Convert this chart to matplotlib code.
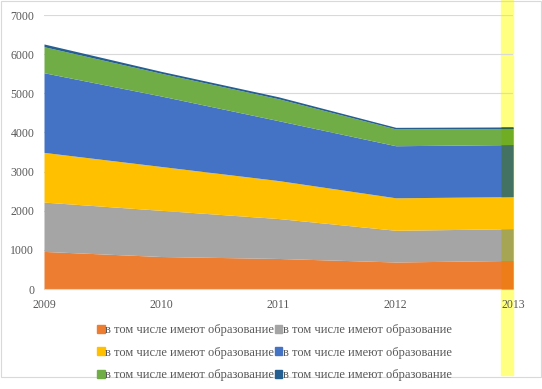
import matplotlib.pyplot as plt
from matplotlib.patches import Rectangle, Patch
import numpy as np

years = [2009, 2010, 2011, 2012, 2013]
orange = [960, 830, 780, 690, 730]
grey = [1260, 1180, 1020, 810, 810]
yellow = [1270, 1120, 970, 830, 820]
blue = [2035, 1800, 1530, 1330, 1330]
green = [665, 580, 560, 430, 410]
darkblue = [70, 50, 50, 40, 40]
label = 'в том числе имеют образование'

colors = ['#ED7D31', '#A5A5A5', '#FFC000', '#4472C4', '#70AD47', '#255E91']
series = [orange, grey, yellow, blue, green, darkblue]

plt.rcParams['font.family'] = ['Liberation Serif', 'DejaVu Serif']

fig = plt.figure(figsize=(5.42, 3.89), dpi=100)
ax = fig.add_axes([44/542, 1-289/389, (513-44)/542, (289-15)/389])
ax.set_facecolor('none')

# yellow highlight strip behind the chart
fig.patches.append(Rectangle((501/542, 1-375/389), 12/542, 375/389,
                             transform=fig.transFigure, color='#FFFF80', zorder=-5))
# chart border
fig.patches.append(Rectangle((0.001, 0.03), 0.997, 0.968, transform=fig.transFigure,
                             fill=False, edgecolor='#D9D9D9', lw=0.8, zorder=-4))

x = np.array(years, dtype=float)
base = np.zeros(len(years))
x_strip = 2009 + (501 - 44) / 117.25
for vals, c in zip(series, colors):
    top = base + np.array(vals)
    ax.fill_between(x, base, top, color=c, lw=0, zorder=2)
    # multiply tint where the yellow strip crosses the areas
    rgb = np.array(plt.matplotlib.colors.to_rgb(c)) * np.array([1, 1, 0.5])
    xs = np.array([x_strip, 2013])
    ax.fill_between(xs, np.interp(xs, x, base), np.interp(xs, x, top),
                    color=rgb, lw=0, zorder=3)
    base = top

ax.set_xlim(2009, 2013)
ax.set_ylim(0, 7000)
ax.set_yticks(range(0, 7001, 1000))
ax.set_xticks(years)
ax.grid(axis='y', color='#D9D9D9', lw=0.8, zorder=0)
ax.set_axisbelow(True)
for s in ax.spines.values():
    s.set_visible(False)
ax.spines['bottom'].set_visible(True)
ax.spines['bottom'].set_color('#D9D9D9')
ax.tick_params(length=0, labelsize=8.5, colors='#595959', pad=7)

handles = [Patch(color=c) for c in colors]
order = [0, 2, 4, 1, 3, 5]
fig.legend([handles[i] for i in order], [label] * 6, ncol=2, loc='upper left',
           bbox_to_anchor=(97/542, 1-324/389), frameon=False, fontsize=9,
           handlelength=0.6, handleheight=0.6, handletextpad=0.05,
           columnspacing=0.05, labelspacing=0.85, labelcolor='#595959',
           borderaxespad=0, borderpad=0)

fig.savefig('out.png', dpi=100)
